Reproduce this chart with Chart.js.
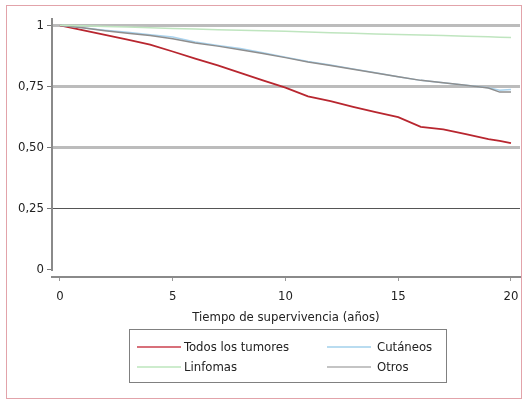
<!DOCTYPE html>
<html lang="es">
<head>
<meta charset="UTF-8">
<title>Supervivencia</title>
<script src="https://cdn.jsdelivr.net/npm/chart.js"></script>
<style>
  body { margin: 0; background: #fff; font-family: 'Liberation Sans Narrow', 'DejaVu Sans Condensed', 'Liberation Sans', sans-serif; }
  .frame { position: absolute; left: 6px; top: 5px; width: 514px; height: 392px; border: 1.5px solid #e2a3aa; }
  .wrap { position: absolute; left: 0; top: 0; width: 530px; height: 403px; }
  .legend { position: absolute; left: 129px; top: 329px; width: 316px; height: 52px; border: 1.5px solid #808080; font-size: 13px; color: #222; }
  .item { position: absolute; height: 16px; line-height: 16px; }
  .item span.line { position: absolute; top: 7px; height: 2px; width: 44px; }
  .item span.txt { position: absolute; white-space: nowrap; }
</style>
</head>
<body>
<div class="frame"></div>
<div class="wrap"><canvas id="km" width="530" height="403"></canvas></div>
<div class="legend">
  <div class="item" style="left:7px;top:9px"><span class="line" style="background:#d8707a"></span><span class="txt" style="left:47px">Todos los tumores</span></div>
  <div class="item" style="left:197px;top:9px"><span class="line" style="background:#b9dcf0"></span><span class="txt" style="left:50px">Cutáneos</span></div>
  <div class="item" style="left:7px;top:29px"><span class="line" style="background:#cdeccd"></span><span class="txt" style="left:47px">Linfomas</span></div>
  <div class="item" style="left:197px;top:29px"><span class="line" style="background:#c4c4c4"></span><span class="txt" style="left:50px">Otros</span></div>
</div>
<script>
// años de seguimiento
const years = [0, 1, 2, 3, 4, 5, 6, 7, 8, 9, 10, 11, 12, 13, 14, 15, 16, 17, 18, 19, 19.5, 20];
const todos = [1, 0.98, 0.961, 0.942, 0.921, 0.893, 0.864, 0.836, 0.806, 0.775, 0.745, 0.71, 0.69, 0.667, 0.645, 0.625, 0.585, 0.575, 0.555, 0.535, 0.528, 0.518];
const cutaneos = [1, 0.99, 0.98, 0.972, 0.962, 0.952, 0.932, 0.918, 0.905, 0.888, 0.87, 0.852, 0.838, 0.822, 0.806, 0.79, 0.775, 0.765, 0.755, 0.745, 0.735, 0.738];
const linfomas = [1, 0.998, 0.995, 0.993, 0.99, 0.987, 0.985, 0.982, 0.98, 0.978, 0.976, 0.973, 0.97, 0.968, 0.965, 0.963, 0.96, 0.958, 0.955, 0.953, 0.951, 0.95];
const otros = [1, 0.99, 0.978, 0.968, 0.958, 0.945, 0.928, 0.915, 0.9, 0.885, 0.868, 0.85, 0.836, 0.82, 0.805, 0.79, 0.775, 0.765, 0.755, 0.744, 0.727, 0.727];
const yTicks = [0, 0.25, 0.5, 0.75, 1];
const yLabels = ['0', '0,25', '0,50', '0,75', '1'];
const xTicks = [0, 5, 10, 15, 20];

const FONT = "'Liberation Sans Narrow', 'DejaVu Sans Condensed', 'Liberation Sans', sans-serif";

const pts = arr => arr.map((v, i) => ({ x: years[i], y: v }));

// eje Y dibujado aparte (termina en 0, no baja hasta el eje X)
const yAxisLine = {
  id: 'yAxisLine',
  afterDraw(chart) {
    const { ctx, chartArea, scales } = chart;
    ctx.save();
    ctx.strokeStyle = '#8a8a8a';
    ctx.lineWidth = 2;
    ctx.beginPath();
    ctx.moveTo(chartArea.left, chartArea.top);
    ctx.lineTo(chartArea.left, scales.y.getPixelForValue(0) + 1);
    ctx.stroke();
    ctx.restore();
  }
};

new Chart(document.getElementById('km'), {
  type: 'line',
  data: {
    datasets: [
      { label: 'Linfomas', data: pts(linfomas), borderColor: '#bfe5bf', borderWidth: 1.5 },
      { label: 'Otros', data: pts(otros), borderColor: '#8e8e8e', borderWidth: 1.5 },
      { label: 'Cutáneos', data: pts(cutaneos), borderColor: '#a9d3ee', borderWidth: 1.5 },
      { label: 'Todos los tumores', data: pts(todos), borderColor: '#b8262f', borderWidth: 1.8 }
    ]
  },
  options: {
    responsive: false,
    animation: false,
    events: [],
    elements: { point: { radius: 0 }, line: { tension: 0 } },
    layout: { padding: { top: 18, right: 10, left: 0, bottom: 78 } },
    plugins: { legend: { display: false }, tooltip: { enabled: false } },
    scales: {
      x: {
        type: 'linear',
        min: -0.35,
        max: 20.4,
        afterBuildTicks: s => { s.ticks = xTicks.map(v => ({ value: v })); },
        afterFit: s => { s.height = 48; },
        border: { display: true, color: '#8a8a8a', width: 2 },
        grid: { drawOnChartArea: false, drawTicks: true, tickLength: 4, tickColor: '#999', tickWidth: 1 },
        ticks: { color: '#222', font: { family: FONT, size: 13 }, padding: 8, maxRotation: 0 },
        title: { display: true, text: 'Tiempo de supervivencia (años)', color: '#222', font: { family: FONT, size: 13 }, padding: { top: 2, bottom: 0 } }
      },
      y: {
        min: -0.029,
        max: 1.03,
        afterBuildTicks: s => { s.ticks = yTicks.map(v => ({ value: v })); },
        afterFit: s => { s.width = 52; },
        border: { display: false },
        grid: {
          color: c => c.tick.value === 0 ? 'rgba(0,0,0,0)' : (c.tick.value === 0.25 ? '#555' : '#bcbcbc'),
          lineWidth: c => c.tick.value === 0.25 ? 1 : 3,
          drawTicks: true,
          tickLength: 5,
          tickColor: '#777',
          tickWidth: 1
        },
        ticks: {
          color: '#222',
          font: { family: FONT, size: 13 },
          padding: 3,
          callback: v => yLabels[yTicks.indexOf(v)]
        }
      }
    }
  },
  plugins: [yAxisLine]
});
</script>
</body>
</html>
